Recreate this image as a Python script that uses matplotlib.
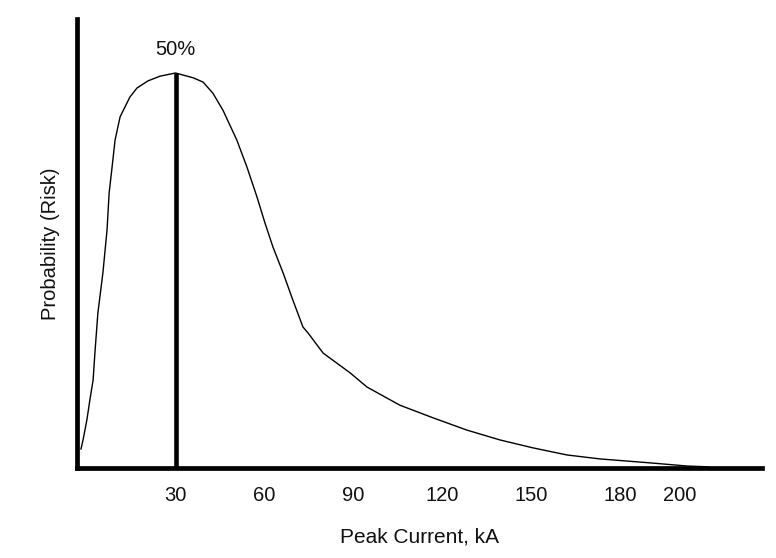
import matplotlib
matplotlib.use("Agg")
import matplotlib.pyplot as plt

plt.rcParams['font.family'] = ['Liberation Sans', 'DejaVu Sans']

# Peak current (kA) and relative probability
current_ka = [-1.9, -1.2, 0.1, 1.1, 2.2, 2.8, 3.8, 5.5, 6.9, 7.6, 8.6, 9.6, 11.3,
              14.6, 17.0, 20.7, 24.8, 30.0, 35.9, 39.3, 42.6, 46.0, 50.7, 54.1,
              57.5, 60.2, 62.9, 66.3, 69.6, 73.0, 74.7, 79.8, 88.9, 94.6, 105.7,
              116.9, 128.3, 139.5, 150.6, 162.1, 173.2, 190.1, 202.6, 209.7]
probability = [0.048, 0.071, 0.122, 0.172, 0.223, 0.291, 0.392, 0.494, 0.603,
               0.696, 0.762, 0.830, 0.889, 0.939, 0.962, 0.980, 0.992, 1.000,
               0.988, 0.977, 0.949, 0.906, 0.830, 0.762, 0.686, 0.620, 0.559,
               0.494, 0.425, 0.357, 0.342, 0.291, 0.241, 0.205, 0.159, 0.127,
               0.096, 0.071, 0.051, 0.033, 0.023, 0.013, 0.005, 0.003]

tick_values = [30, 60, 90, 120, 150, 180, 200]
tick_labels = ["30", "60", "90", "120", "150", "180", "200"]

median_ka = 30
median_prob = 1.0
median_label = "50%"

W, H = 776, 558
fig = plt.figure(figsize=(W / 100, H / 100), dpi=100)
ax = fig.add_axes([77 / W, (H - 468) / H, (762 - 77) / W, (468 - 19) / H])

ax.plot(current_ka, probability, color="black", linewidth=1.0)
ax.vlines(median_ka, 0, median_prob, color="black", linewidth=3.3)
ax.text(median_ka, median_prob + 0.035, median_label, ha="center", va="bottom",
        fontsize=14.5, color="#111111")

ax.set_xlim(-3.24, 227.9)
ax.set_ylim(0, 1.1367)

for s in ["top", "right"]:
    ax.spines[s].set_visible(False)
for s in ["left", "bottom"]:
    ax.spines[s].set_linewidth(3.4)
    ax.spines[s].set_color("black")

ax.set_xticks(tick_values)
ax.set_xticklabels(tick_labels, fontsize=14.5, color="#111111")
ax.tick_params(axis="x", length=0, pad=13)
ax.set_yticks([])

ax.set_xlabel("Peak Current, kA", fontsize=15, color="#111111", labelpad=16)
ax.set_ylabel("Probability (Risk)", fontsize=14.5, color="#111111", labelpad=12.5)

fig.savefig("out.png", dpi=100, facecolor="white")
